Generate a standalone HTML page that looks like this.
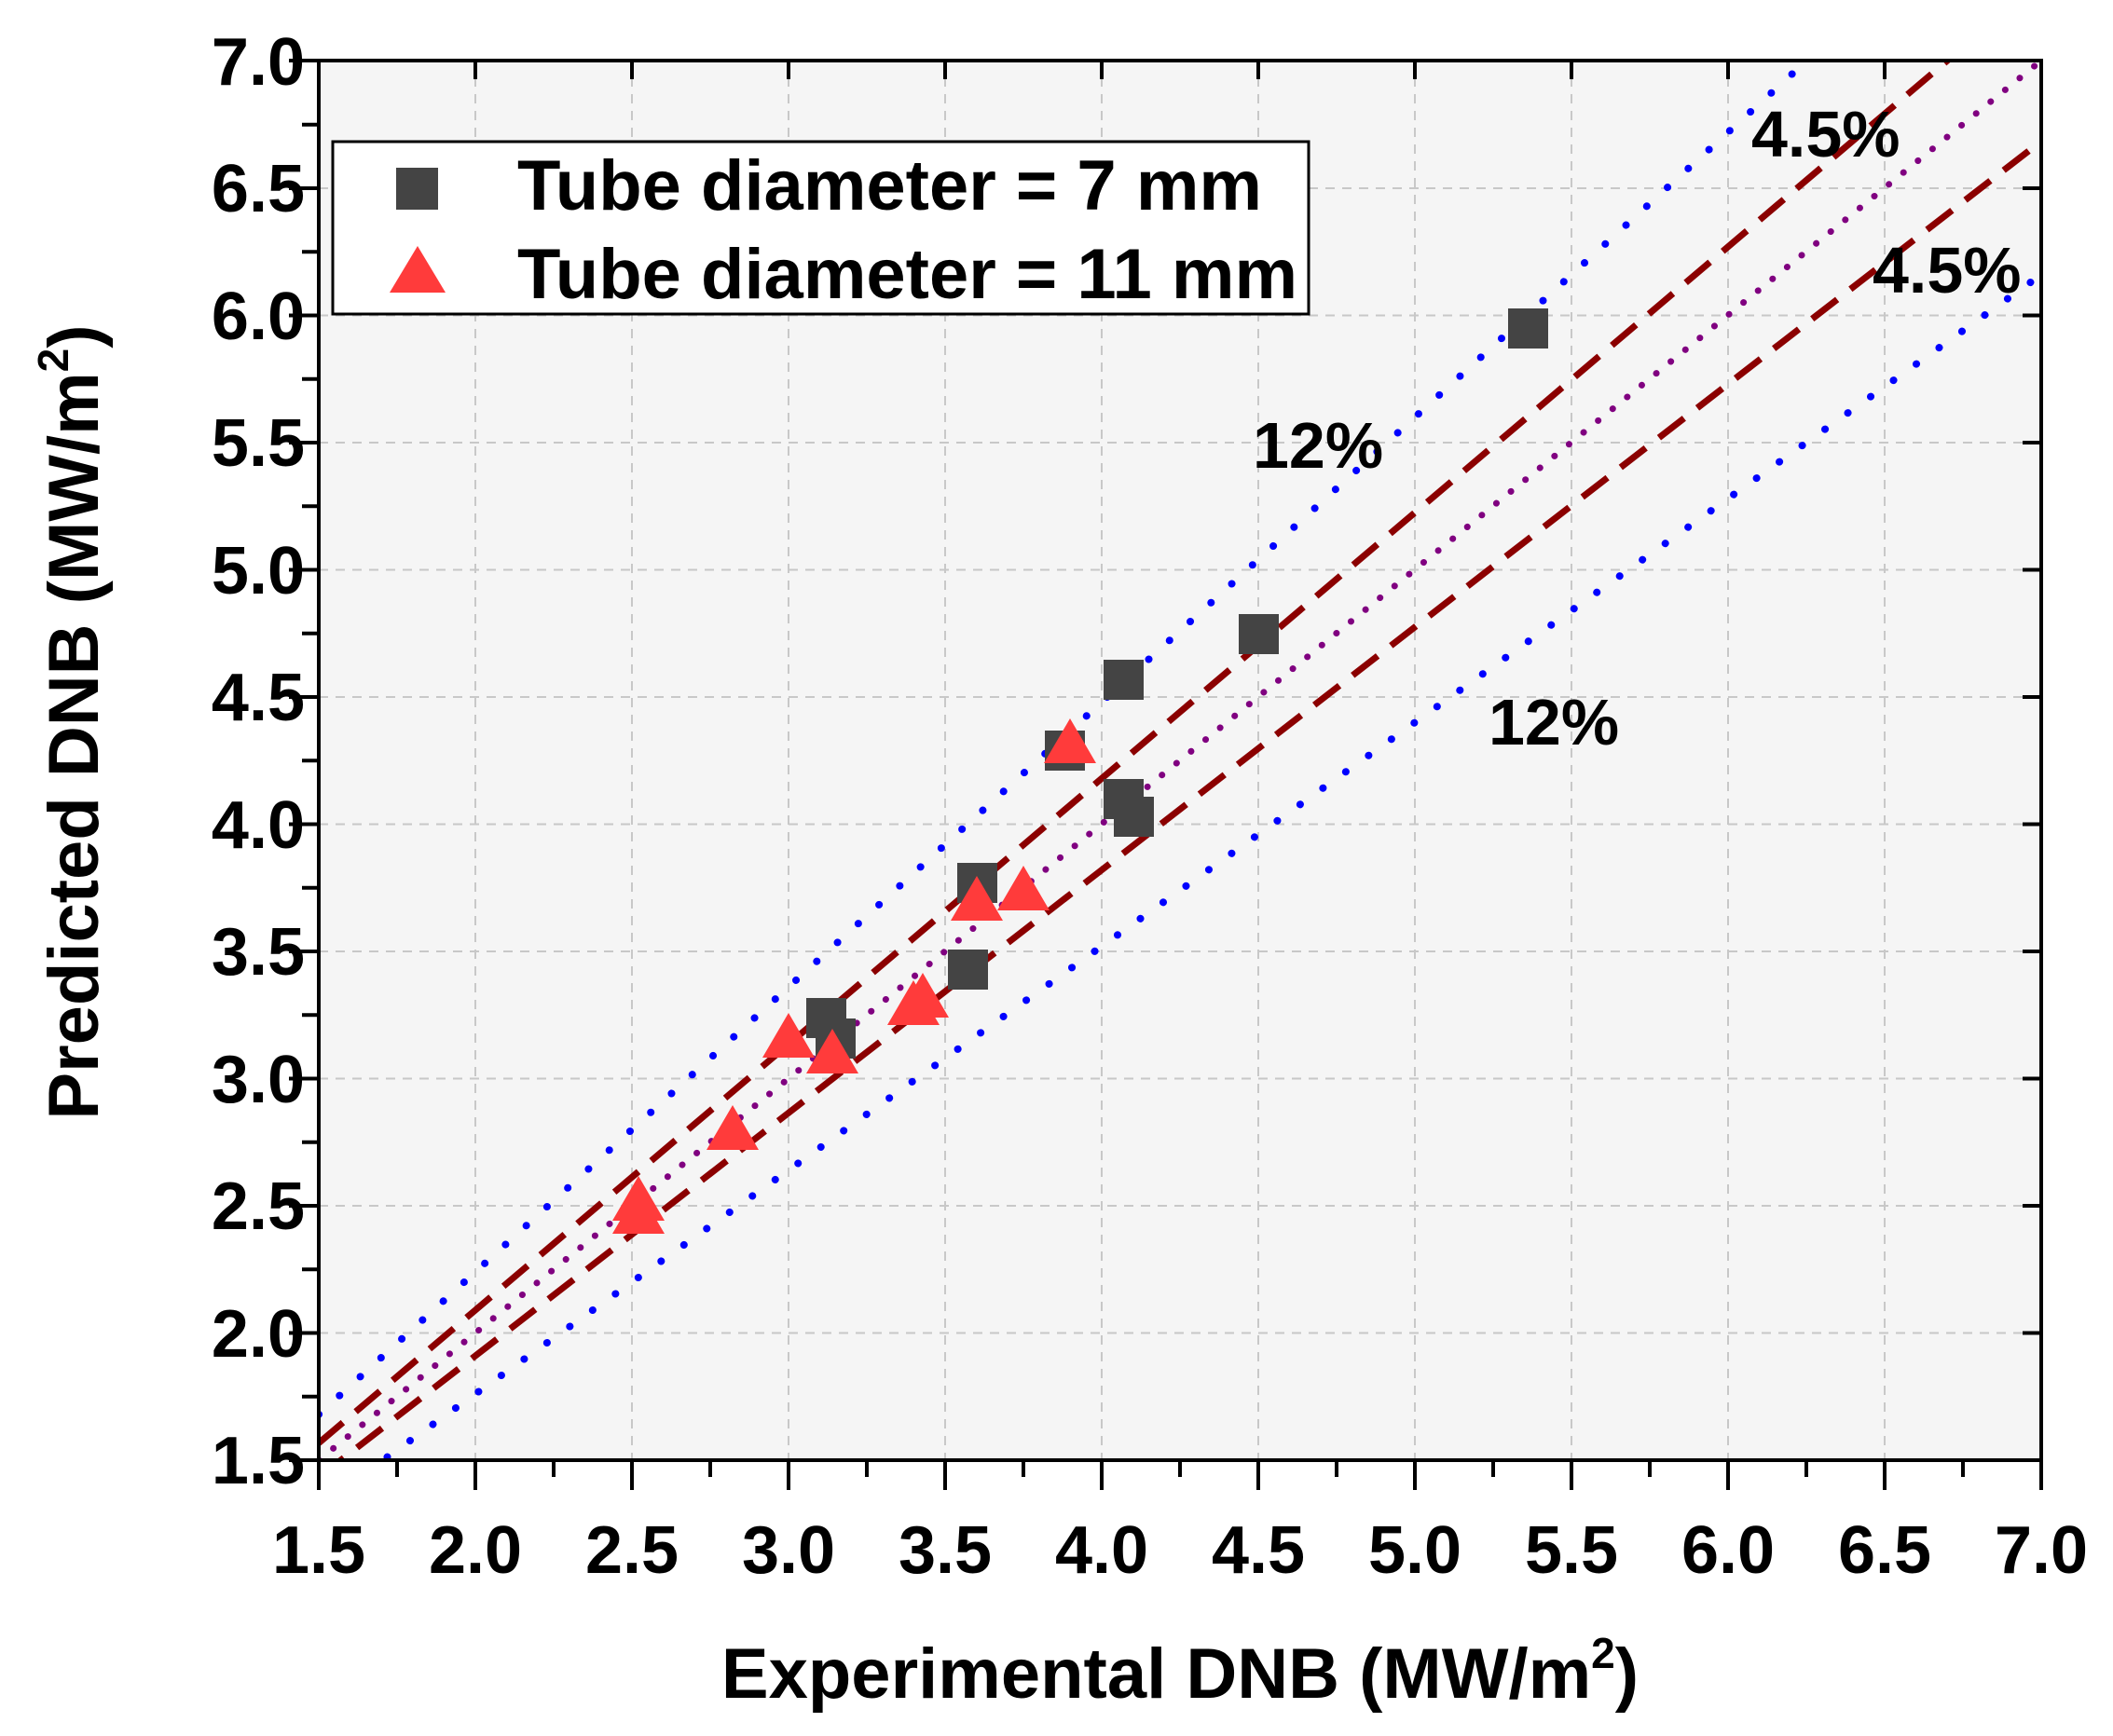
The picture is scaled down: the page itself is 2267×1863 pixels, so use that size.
<!DOCTYPE html>
<html><head><style>body{margin:0;background:#fff}svg{display:block}text{font-family:"Liberation Sans",Arial,sans-serif;font-weight:bold;fill:#000}</style></head><body>
<svg width="2267" height="1863" viewBox="0 0 2267 1863" xmlns="http://www.w3.org/2000/svg">
<defs><clipPath id="c"><rect x="342" y="65" width="1848" height="1502"/></clipPath></defs>
<rect x="342" y="65" width="1848" height="1502" fill="#f5f5f5"/>
<g stroke="#c8c8c8" stroke-width="2" stroke-dasharray="10,8">
<path d="M510 65V1567M678 65V1567M846 65V1567M1014 65V1567M1182 65V1567M1350 65V1567M1518 65V1567M1686 65V1567M1854 65V1567M2022 65V1567"/>
<path d="M342 1430.5H2190M342 1294H2190M342 1157.5H2190M342 1021H2190M342 884.5H2190M342 748H2190M342 611.5H2190M342 475H2190M342 338.5H2190M342 202H2190"/>
</g>
<g clip-path="url(#c)" fill="none" stroke-linecap="round">
<line x1="342" y1="1567" x2="2190" y2="65" stroke="#800080" stroke-width="7" stroke-dasharray="0.1,20"/>
<line x1="342" y1="1517.9" x2="2190" y2="-163.8" stroke="#0000ff" stroke-width="8" stroke-dasharray="0.1,30"/>
<line x1="342" y1="1616.1" x2="2190" y2="294.8" stroke="#0000ff" stroke-width="8" stroke-dasharray="0.1,30"/>
<line x1="342" y1="1548.6" x2="2190" y2="-20.5" stroke="#8b0000" stroke-width="7" stroke-linecap="butt" stroke-dasharray="34,18"/>
<line x1="342" y1="1585.4" x2="2190" y2="151.5" stroke="#8b0000" stroke-width="7" stroke-linecap="butt" stroke-dasharray="34,18"/>
</g>
<g fill="#444">
<rect x="1618" y="331" width="43" height="43"/><rect x="1329" y="659" width="43" height="43"/><rect x="1184" y="708" width="43" height="43"/><rect x="1121" y="784" width="43" height="43"/><rect x="1184" y="836" width="43" height="43"/><rect x="1195" y="855" width="43" height="43"/><rect x="1027" y="926" width="43" height="43"/><rect x="1017" y="1019" width="43" height="43"/><rect x="865" y="1071" width="43" height="43"/><rect x="875" y="1093" width="43" height="43"/>
</g>
<g fill="#ff3b3b">
<path d="M1148 771l28 48h-56z M1048 940l28 48h-56z M1098 929l28 48h-56z M980 1052l28 48h-56z M990 1044l28 48h-56z M846 1087l28 48h-56z M893 1104l28 48h-56z M786 1186l28 48h-56z M685 1262l28 48h-56z M685 1276l28 48h-56z"/>
</g>
<rect x="342" y="65" width="1848" height="1502" fill="none" stroke="#000" stroke-width="4"/>
<g stroke="#000" stroke-width="4">
<path d="M342 1567v32M510 1567v32M678 1567v32M846 1567v32M1014 1567v32M1182 1567v32M1350 1567v32M1518 1567v32M1686 1567v32M1854 1567v32M2022 1567v32M2190 1567v32"/>
<path d="M426 1567v18M594 1567v18M762 1567v18M930 1567v18M1098 1567v18M1266 1567v18M1434 1567v18M1602 1567v18M1770 1567v18M1938 1567v18M2106 1567v18"/>
<path d="M342 1567h-32M342 1430.5h-32M342 1294h-32M342 1157.5h-32M342 1021h-32M342 884.5h-32M342 748h-32M342 611.5h-32M342 475h-32M342 338.5h-32M342 202h-32M342 65h-32"/>
<path d="M342 1498.75h-18M342 1362.25h-18M342 1225.75h-18M342 1089.25h-18M342 952.75h-18M342 816.25h-18M342 679.75h-18M342 543.25h-18M342 406.75h-18M342 270.25h-18M342 133.75h-18"/>
<path d="M2190 1430.5h-20M2190 1294h-20M2190 1157.5h-20M2190 1021h-20M2190 884.5h-20M2190 748h-20M2190 611.5h-20M2190 475h-20M2190 338.5h-20M2190 202h-20"/>
<path d="M510 65v20M678 65v20M846 65v20M1014 65v20M1182 65v20M1350 65v20M1518 65v20M1686 65v20M1854 65v20M2022 65v20"/>
</g>
<g font-size="72" text-anchor="middle">
<text x="342" y="1688">1.5</text><text x="510" y="1688">2.0</text><text x="678" y="1688">2.5</text><text x="846" y="1688">3.0</text><text x="1014" y="1688">3.5</text><text x="1182" y="1688">4.0</text><text x="1350" y="1688">4.5</text><text x="1518" y="1688">5.0</text><text x="1686" y="1688">5.5</text><text x="1854" y="1688">6.0</text><text x="2022" y="1688">6.5</text><text x="2190" y="1688">7.0</text>
</g>
<g font-size="72" text-anchor="end">
<text x="327" y="1592">1.5</text><text x="327" y="1456">2.0</text><text x="327" y="1319">2.5</text><text x="327" y="1183">3.0</text><text x="327" y="1046">3.5</text><text x="327" y="910">4.0</text><text x="327" y="773">4.5</text><text x="327" y="637">5.0</text><text x="327" y="500">5.5</text><text x="327" y="364">6.0</text><text x="327" y="227">6.5</text><text x="327" y="91">7.0</text>
</g>
<text x="1266" y="1822" font-size="76" text-anchor="middle">Experimental DNB (MW/m<tspan font-size="46" dy="-32">2</tspan><tspan dy="32">)</tspan></text>
<text transform="translate(105,775) rotate(-90)" font-size="76" text-anchor="middle">Predicted DNB (MW/m<tspan font-size="46" dy="-32">2</tspan><tspan dy="32">)</tspan></text>
<rect x="357" y="152" width="1047" height="185" fill="#fff" stroke="#000" stroke-width="3"/>
<rect x="425" y="180" width="45" height="45" fill="#444"/>
<path d="M448 264l30 50h-60z" fill="#ff3b3b"/>
<text x="555" y="225" font-size="76">Tube diameter = 7 mm</text>
<text x="555" y="320" font-size="76">Tube diameter = 11 mm</text>
<g font-size="70">
<text x="1879" y="168">4.5%</text><text x="2009" y="314">4.5%</text><text x="1344" y="502">12%</text><text x="1597" y="799">12%</text>
</g>
</svg>
</body></html>
